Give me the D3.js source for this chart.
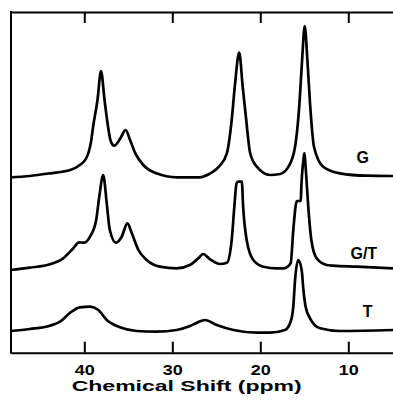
<!DOCTYPE html>
<html>
<head>
<meta charset="utf-8">
<script src="https://cdn.jsdelivr.net/npm/d3@7"></script>
<style>
  body { margin: 0; background: #fff; }
  svg { display: block; }
  text { font-family: "Liberation Sans", Arial, Helvetica, sans-serif; font-weight: bold; fill: #000; }
</style>
</head>
<body>
<div id="chart"></div>
<script>
// spectra: [ppm, intensity above own baseline]
const specG = [
    [48.4, -0.8], [46.2, 0.5], [43.9, 3.2], [41.6, 6.5], [40.5, 11.5], [39.8, 18],
    [39.5, 24.5], [39.25, 34], [39.0, 49.8], [38.5, 76.5], [38.1, 105.5], [37.7, 76.5],
    [37.3, 49.8], [37.0, 35.5], [36.6, 30.8], [35.9, 38.2], [35.3, 46.5], [34.8, 36.5],
    [34.2, 23.2], [33.3, 11.5], [31.8, 3.2], [29.5, -0.8], [26.9, -0.8], [25.8, 2.5],
    [24.7, 9.8], [23.8, 23.2], [23.25, 56.5], [22.9, 89.8], [22.4, 123.8], [22.0, 89.8],
    [21.6, 56.5], [21.15, 23.2], [20.4, 9.8], [18.9, 1.5], [17.75, 2.5], [16.8, 9.8],
    [16.05, 29.8], [15.55, 73.2], [15.25, 116.5], [14.95, 150.5], [14.65, 116.5],
    [14.35, 73.2], [13.9, 29.8], [12.85, 9.8], [10.95, 3.2], [7.9, 0.8], [4.9, 0.5]
];
const specGT = [
    [48.4, -0.5], [46.2, 1.8], [43.9, 5.2], [42.4, 11.2], [41.25, 21.2], [40.6, 27.2],
    [40.0, 26.8], [39.35, 32.8], [38.65, 49.5], [38.3, 72.8], [37.85, 94.5], [37.45, 66.2],
    [37.1, 39.5], [36.4, 26.8], [35.75, 32.8], [35.1, 46.2], [34.6, 36.2], [33.85, 19.5],
    [32.9, 9.5], [31.4, 2.8], [29.5, 1.2], [28.0, 4.5], [27.05, 11.2], [26.5, 15.5],
    [25.7, 10.2], [24.6, 5.5], [23.8, 6.8], [23.25, 29.5], [22.95, 62.8], [22.7, 86.2],
    [22.5, 87.8], [22.1, 87.8], [21.95, 62.8], [21.55, 29.5], [20.8, 9.5], [19.65, 2.8],
    [18.15, 1.2], [17.3, 1.2], [16.55, 6.2], [16.25, 39.5], [15.85, 68.5], [15.4, 68.5],
    [15.35, 80], [15.1, 109.5], [15.0, 116.2], [14.8, 96.2], [14.55, 62.8], [14.2, 29.5],
    [13.6, 11.2], [12.45, 4.5], [11.7, 3.8], [9.05, 2.8], [4.9, 1.2]
];
const specT = [
    [48.4, 0], [46.2, 2], [43.9, 5.3], [42.75, 9.3], [41.6, 18.3], [40.5, 23.7],
    [39.35, 24.3], [38.4, 21], [37.45, 11], [35.95, 3.7], [34.05, 0], [31.8, -0.7],
    [29.5, 1], [28.0, 5], [27.2, 8.3], [26.3, 11], [24.95, 6], [23.05, 1], [20.4, -1.7],
    [18.9, -1.7], [17.2, 1], [16.55, 9.3], [16.25, 24.3], [16.05, 51], [15.7, 71],
    [15.3, 61], [15.1, 41], [14.85, 24.3], [14.35, 12.7], [13.2, 2.7], [10.95, 0], [4.9, 1]
];

const names = ["G", "G/T", "T"];
const offsets = [176.2, 83.2, 21.7];      // stacking offset of each trace
const labelPpm = [8.35, 8.24, 7.8];
const labelLift = [13.2, 10.5, 14];
const tickValues = [40, 30, 20, 10];
const xTitle = "Chemical Shift (ppm)";

const spectra = [specG, specGT, specT];

const width = 393, height = 406;
const margin = { top: 12, right: 0, bottom: 53.3, left: 11 };

const svg = d3.select("#chart").append("svg")
    .attr("width", width)
    .attr("height", height);

const x = d3.scaleLinear()
    .domain([48.33, 4.92])
    .range([margin.left, width - margin.right]);

const y = d3.scaleLinear()
    .domain([0, height - margin.bottom - margin.top])
    .range([height - margin.bottom, margin.top]);

// bottom axis, ticks pointing in
const xAxis = svg.append("g")
    .attr("transform", `translate(0,${height - margin.bottom})`)
    .call(d3.axisBottom(x).tickValues(tickValues).tickSizeInner(-11).tickSizeOuter(0).tickPadding(12));

xAxis.selectAll("path, line").attr("stroke", "#000").attr("stroke-width", 2);
xAxis.selectAll("text")
    .style("font-size", "14.5px")
    .attr("textLength", 20)
    .attr("lengthAdjust", "spacingAndGlyphs");

// top axis, no labels
const topAxis = svg.append("g")
    .attr("transform", `translate(0,${margin.top})`)
    .call(d3.axisTop(x).tickValues(tickValues).tickSizeInner(-11).tickSizeOuter(0).tickFormat(""));
topAxis.selectAll("path, line").attr("stroke", "#000").attr("stroke-width", 2);

// left frame line
svg.append("line")
    .attr("x1", margin.left).attr("x2", margin.left)
    .attr("y1", margin.top - 1).attr("y2", height - margin.bottom + 1)
    .attr("stroke", "#000")
    .attr("stroke-width", 2);

// axis title
svg.append("text")
    .attr("x", 186.7)
    .attr("y", 391)
    .attr("text-anchor", "middle")
    .style("font-size", "14px")
    .attr("textLength", 230)
    .attr("lengthAdjust", "spacingAndGlyphs")
    .text(xTitle);

// spectra
spectra.forEach((s, i) => {
    const line = d3.line()
        .x(d => x(d[0]))
        .y(d => y(d[1] + offsets[i]))
        .curve(d3.curveMonotoneX);

    svg.append("path")
        .datum(s.slice().reverse())
        .attr("d", line)
        .attr("fill", "none")
        .attr("stroke", "#000")
        .attr("stroke-width", 2.7)
        .attr("stroke-linejoin", "round");

    svg.append("text")
        .attr("x", x(labelPpm[i]))
        .attr("y", y(offsets[i] + labelLift[i]))
        .attr("text-anchor", "middle")
        .style("font-size", "16px")
        .text(names[i]);
});
</script>
</body>
</html>
